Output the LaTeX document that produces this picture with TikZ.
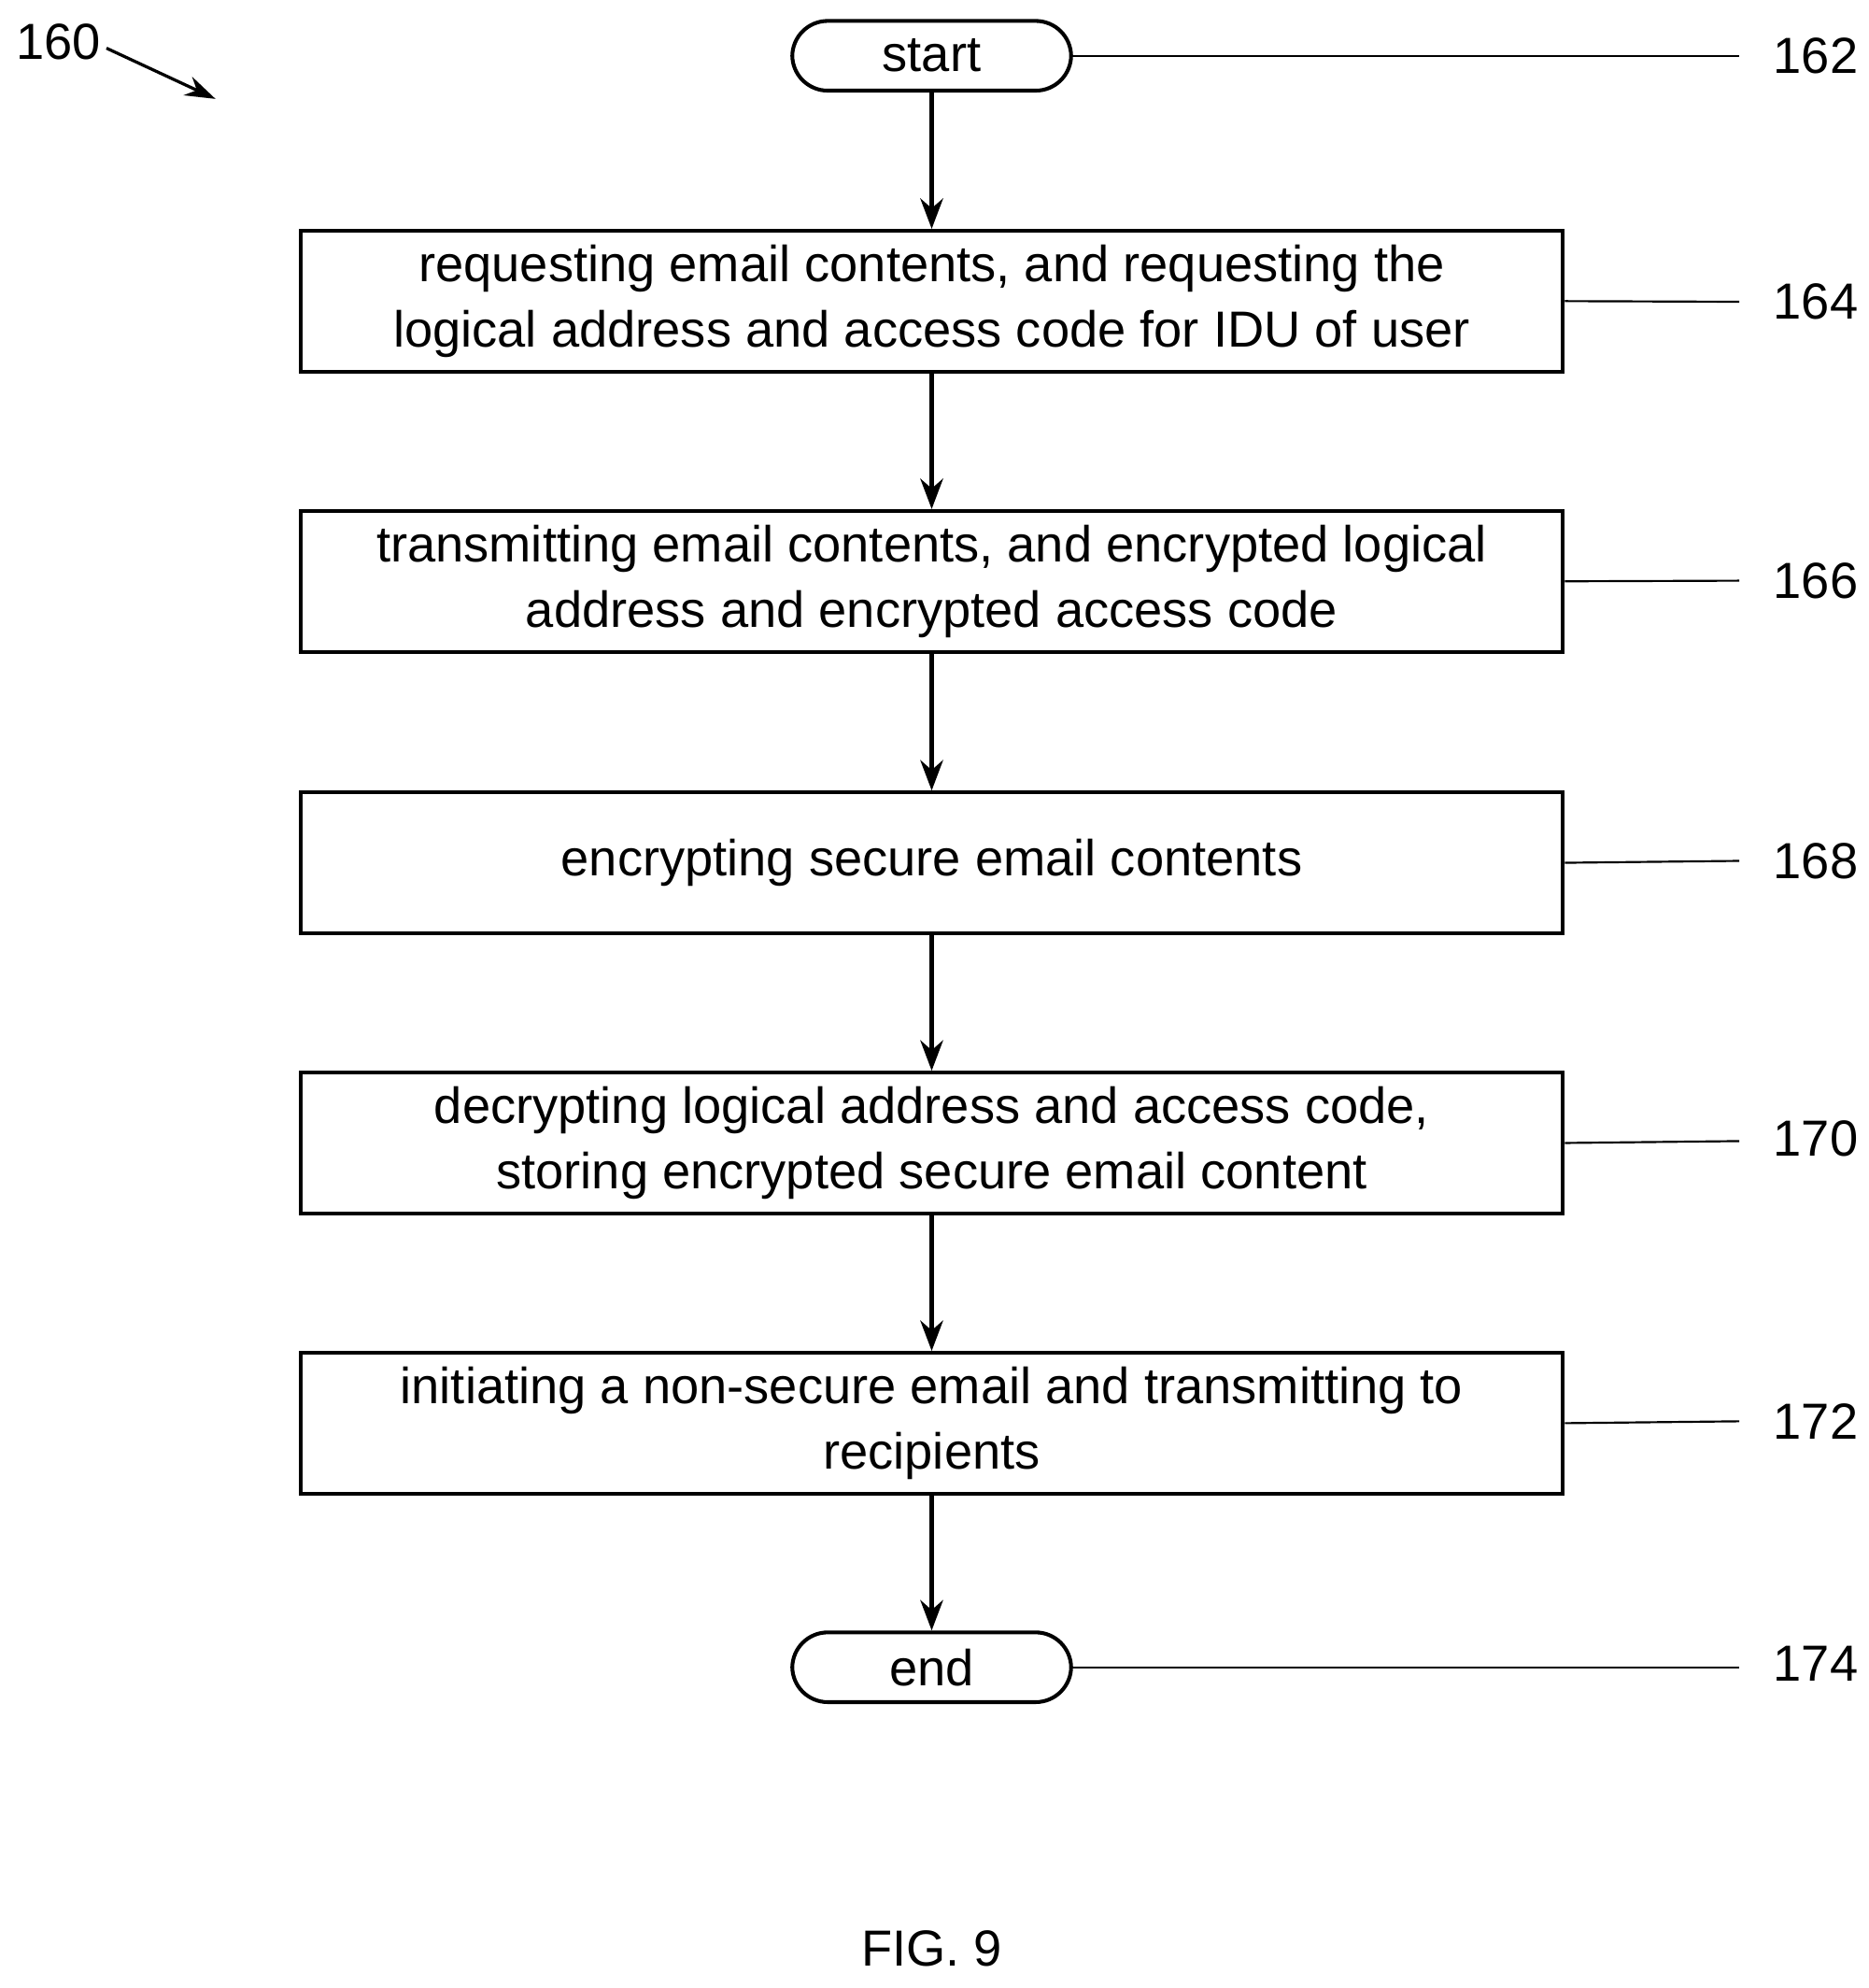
\documentclass[tikz,border=0pt]{standalone}
\usepackage{fontspec}
\setmainfont{Liberation Sans}
\usetikzlibrary{arrows.meta}
\begin{document}
\begin{tikzpicture}[x=0.5pt,y=-0.5pt,
  box/.style={draw,line width=1.5pt,minimum width=498pt,minimum height=55.5pt,align=center,inner sep=0pt,font=\fontsize{20}{26}\selectfont},
  term/.style={draw,line width=1.5pt,rounded corners=14pt,minimum width=110pt,minimum height=27.5pt,inner sep=0pt,font=\fontsize{20}{24}\selectfont},
  arr/.style={line width=1.5pt,-{Stealth[length=12pt,width=9pt]}},
  lead/.style={line width=0.8pt},
  ref/.style={font=\fontsize{20}{24}\selectfont}]
\useasboundingbox (0,0) rectangle (1474,1568);
\node[term] (s) at (735,44) {start};
\node[box] (b1) at (735,237.5) {requesting email contents, and requesting the\\logical address and access code for IDU of user};
\node[box] (b2) at (735,458.5) {transmitting email contents, and encrypted logical\\address and encrypted access code};
\node[box] (b3) at (735,680.5) {encrypting secure email contents};
\node[box] (b4) at (735,901.5) {decrypting logical address and access code,\\storing encrypted secure email content};
\node[box] (b5) at (735,1122.5) {initiating a non-secure email and transmitting to\\recipients};
\node[term] (e) at (735,1315) {end};
\draw[arr] (s) -- (b1);
\draw[arr] (b1) -- (b2);
\draw[arr] (b2) -- (b3);
\draw[arr] (b3) -- (b4);
\draw[arr] (b4) -- (b5);
\draw[arr] (b5) -- (e);
\node[ref,anchor=west] (r162) at (1392,44) {162};
\node[ref,anchor=west] (r164) at (1392,238) {164};
\node[ref,anchor=west] (r166) at (1392,458) {166};
\node[ref,anchor=west] (r168) at (1392,679) {168};
\node[ref,anchor=west] (r170) at (1392,898) {170};
\node[ref,anchor=west] (r172) at (1392,1121) {172};
\node[ref,anchor=west] (r174) at (1392,1312) {174};
\draw[lead] (s.east) -- (1372,44);
\draw[lead] (b1.east) -- (1372,238);
\draw[lead] (b2.east) -- (1372,458);
\draw[lead] (b3.east) -- (1372,679);
\draw[lead] (b4.east) -- (1372,900);
\draw[lead] (b5.east) -- (1372,1121);
\draw[lead] (e.east) -- (1372,1315);
\node[ref] (r160) at (46,33) {160};
\coordinate (a160) at (170,78);
\draw[line width=1.2pt,-{Stealth[length=12pt,width=8pt]}] (84,38) -- (a160);
\node[ref] (fig) at (735,1537) {FIG. 9};
\end{tikzpicture}
\end{document}
